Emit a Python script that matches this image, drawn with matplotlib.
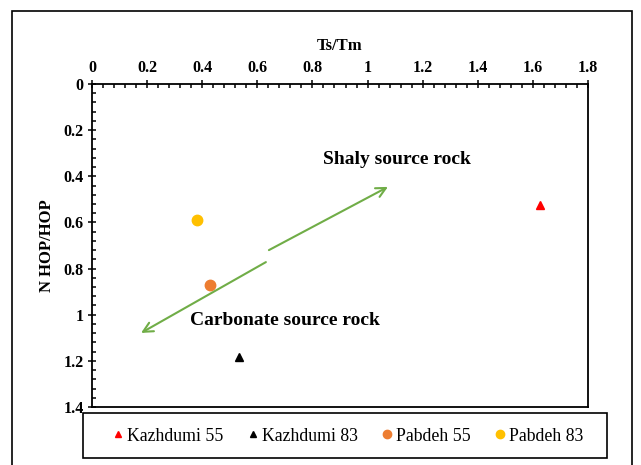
import matplotlib.pyplot as plt
from matplotlib.patches import Rectangle
from matplotlib.ticker import MultipleLocator

plt.rcParams['font.family'] = ['Liberation Serif', 'DejaVu Serif']

# data
series = ['Kazhdumi 55', 'Kazhdumi 83', 'Pabdeh 55', 'Pabdeh 83']
ts_tm = [1.625, 0.533, 0.428, 0.381]
n_hop = [0.524, 1.183, 0.871, 0.590]
markers = ['^', '^', 'o', 'o']
colors = ['#FF0000', '#000000', '#ED7D31', '#FFC000']
sizes = [6, 6, 7.5, 7.5]

fig = plt.figure(figsize=(6.41, 4.65), dpi=100)
ax = fig.add_axes([92 / 641, 1 - 407 / 465, 496 / 641, 323 / 465])

# outer frame of the chart
fig.patches.append(Rectangle((12 / 641, -0.05), 620 / 641, 1.05 - 11 / 465,
                             transform=fig.transFigure, fill=False,
                             edgecolor='black', linewidth=1.2))
# legend frame
fig.patches.append(Rectangle((83 / 641, 1 - 458 / 465), 524 / 641, 45 / 465,
                             transform=fig.transFigure, fill=False,
                             edgecolor='black', linewidth=1.2))

for name, x, y, m, c, s in zip(series, ts_tm, n_hop, markers, colors, sizes):
    ax.plot(x, y, linestyle='none', marker=m, color=c, markersize=s, label=name)

ax.set_xlim(0, 1.8)
ax.set_ylim(1.4, 0)
ax.xaxis.set_major_locator(MultipleLocator(0.2))
ax.xaxis.set_minor_locator(MultipleLocator(0.04))
ax.yaxis.set_major_locator(MultipleLocator(0.2))
ax.yaxis.set_minor_locator(MultipleLocator(0.04))
ax.xaxis.tick_top()
ax.xaxis.set_label_position('top')
ax.set_xticklabels([f'{v:g}' for v in ax.get_xticks()])
ax.set_yticklabels([f'{v:g}' for v in ax.get_yticks()])
ax.tick_params(which='major', direction='inout', length=6, width=1.1,
               labelsize=11.5, pad=3)
ax.tick_params(which='minor', direction='in', length=3, width=1.1)
for lab in ax.get_xticklabels() + ax.get_yticklabels():
    lab.set_fontweight('bold')
for sp in ax.spines.values():
    sp.set_linewidth(1.3)

ax.set_xlabel('Ts/Tm', fontsize=12, fontweight='bold', labelpad=7)
ax.set_ylabel('N HOP/HOP', fontsize=12, fontweight='bold', labelpad=6)

# double arrow with a small break in the middle
green = '#70AD47'
ax.annotate('', xy=(1.074, 0.446), xytext=(0.642, 0.72),
            arrowprops=dict(arrowstyle='->,head_length=0.7,head_width=0.35',
                            color=green, lw=1.5, shrinkA=0, shrinkB=0))
ax.annotate('', xy=(0.178, 1.079), xytext=(0.631, 0.772),
            arrowprops=dict(arrowstyle='->,head_length=0.7,head_width=0.35',
                            color=green, lw=1.5, shrinkA=0, shrinkB=0))

ax.text(1.107, 0.328, 'Shaly source rock', fontsize=14, fontweight='bold',
        ha='center', va='center')
ax.text(0.70, 1.027, 'Carbonate source rock', fontsize=14, fontweight='bold',
        ha='center', va='center')

leg = fig.legend(loc='center', ncol=4, fontsize=12.8,
                 bbox_to_anchor=(348 / 641, 1 - 436 / 465),
                 frameon=False, handlelength=0.6, handletextpad=0.2,
                 columnspacing=1.35, borderaxespad=0, markerscale=0.8)

fig.savefig('out.png', dpi=100)
